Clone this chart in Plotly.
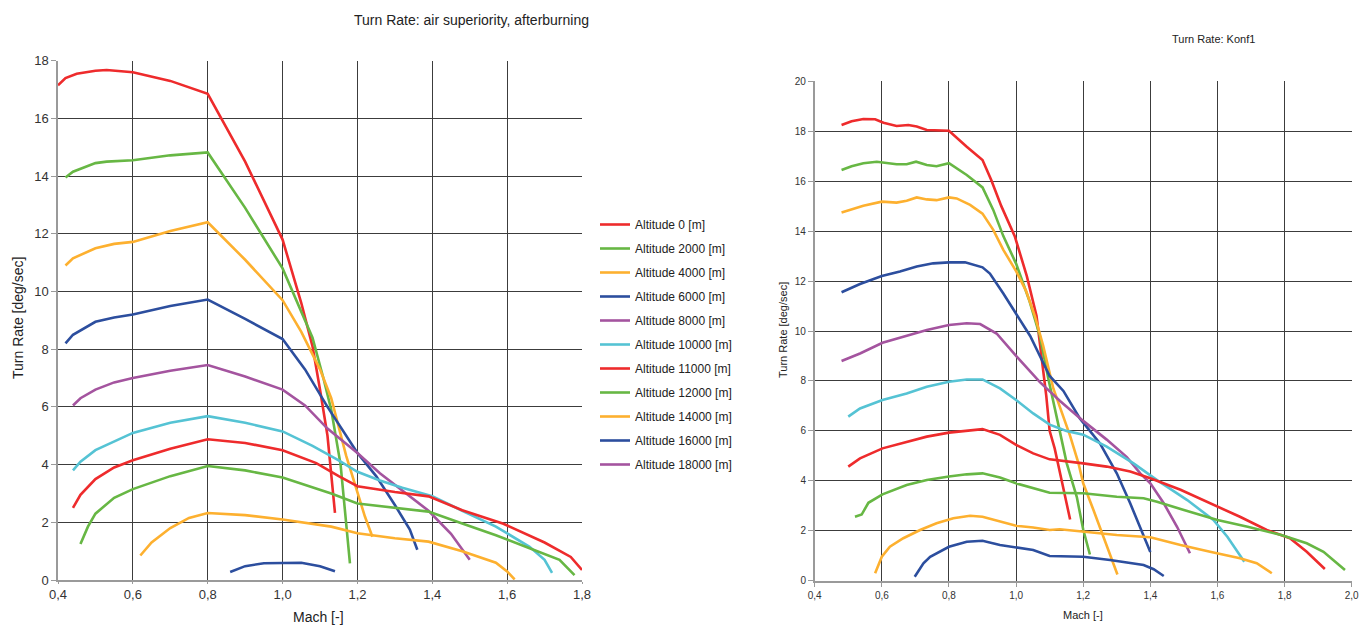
import plotly.graph_objects as go

W, H = 1362, 626

NAMES = ["Altitude 0 [m]", "Altitude 2000 [m]", "Altitude 4000 [m]", "Altitude 6000 [m]",
         "Altitude 8000 [m]", "Altitude 10000 [m]", "Altitude 11000 [m]", "Altitude 12000 [m]",
         "Altitude 14000 [m]", "Altitude 16000 [m]", "Altitude 18000 [m]"]
COLORS = ["#EE2B2C", "#67B744", "#FDB02F", "#2C4E9E", "#A4549F", "#55C3D4",
          "#EE2B2C", "#67B744", "#FDB02F", "#2C4E9E", "#A4549F"]

# ---- Left chart: air superiority, afterburning ----
A_M0 = [0.40, 0.42, 0.45, 0.50, 0.53, 0.60, 0.70, 0.80, 0.90, 1.00, 1.05, 1.08, 1.10, 1.12, 1.14]
A_T0 = [17.15, 17.4, 17.55, 17.65, 17.68, 17.6, 17.3, 16.85, 14.5, 11.8, 9.6, 8.1, 6.6, 5.0, 2.33]
A_M2 = [0.42, 0.44, 0.50, 0.53, 0.60, 0.70, 0.80, 0.90, 1.00, 1.05, 1.08, 1.11, 1.13, 1.155, 1.167, 1.18]
A_T2 = [13.95, 14.15, 14.45, 14.5, 14.55, 14.72, 14.82, 12.9, 10.8, 9.3, 8.4, 6.95, 5.9, 4.0, 2.3, 0.58]
A_M4 = [0.42, 0.44, 0.50, 0.55, 0.60, 0.70, 0.80, 0.90, 1.00, 1.05, 1.10, 1.13, 1.17, 1.20, 1.22, 1.24]
A_T4 = [10.9, 11.15, 11.5, 11.65, 11.72, 12.1, 12.4, 11.1, 9.7, 8.6, 7.3, 6.3, 4.3, 3.0, 2.2, 1.5]
A_M6 = [0.42, 0.44, 0.50, 0.55, 0.60, 0.70, 0.80, 0.90, 1.00, 1.06, 1.12, 1.20, 1.25, 1.30, 1.34, 1.36]
A_T6 = [8.2, 8.5, 8.95, 9.1, 9.2, 9.5, 9.72, 9.05, 8.35, 7.3, 6.0, 4.4, 3.6, 2.6, 1.75, 1.05]
A_M8 = [0.44, 0.46, 0.50, 0.55, 0.60, 0.70, 0.80, 0.90, 1.00, 1.06, 1.12, 1.20, 1.26, 1.33, 1.39, 1.45, 1.50]
A_T8 = [6.05, 6.3, 6.6, 6.85, 7.0, 7.25, 7.45, 7.05, 6.6, 6.05, 5.25, 4.4, 3.7, 3.0, 2.4, 1.6, 0.7]
A_M10 = [0.44, 0.46, 0.50, 0.55, 0.60, 0.70, 0.80, 0.90, 1.00, 1.08, 1.15, 1.20, 1.26, 1.32, 1.40, 1.48, 1.57, 1.66, 1.70, 1.72]
A_T10 = [3.8, 4.1, 4.5, 4.8, 5.1, 5.45, 5.68, 5.45, 5.15, 4.65, 4.15, 3.75, 3.45, 3.2, 2.9, 2.4, 1.85, 1.15, 0.7, 0.25]
A_M11 = [0.44, 0.46, 0.50, 0.55, 0.60, 0.70, 0.80, 0.90, 1.00, 1.09, 1.15, 1.20, 1.30, 1.39, 1.48, 1.59, 1.70, 1.77, 1.80]
A_T11 = [2.5, 2.95, 3.5, 3.9, 4.15, 4.55, 4.88, 4.75, 4.5, 4.05, 3.6, 3.25, 3.05, 2.9, 2.42, 1.95, 1.3, 0.8, 0.35]
A_M12 = [0.46, 0.48, 0.50, 0.55, 0.60, 0.70, 0.80, 0.90, 1.00, 1.13, 1.20, 1.30, 1.39, 1.48, 1.57, 1.66, 1.74, 1.78]
A_T12 = [1.25, 1.85, 2.3, 2.85, 3.15, 3.6, 3.95, 3.8, 3.55, 3.0, 2.65, 2.5, 2.37, 1.96, 1.55, 1.1, 0.7, 0.17]
A_M14 = [0.62, 0.65, 0.70, 0.75, 0.80, 0.90, 1.00, 1.13, 1.20, 1.30, 1.39, 1.48, 1.57, 1.60, 1.62]
A_T14 = [0.85, 1.3, 1.8, 2.15, 2.32, 2.25, 2.1, 1.85, 1.62, 1.45, 1.33, 1.0, 0.6, 0.3, 0.02]
A_M16 = [0.86, 0.90, 0.95, 1.00, 1.05, 1.10, 1.14]
A_T16 = [0.28, 0.48, 0.58, 0.6, 0.6, 0.48, 0.3]
A_M18 = []
A_T18 = []

# ---- Right chart: Konf1 ----
B_M0 = [0.48, 0.51, 0.545, 0.58, 0.605, 0.644, 0.679, 0.704, 0.734, 0.773, 0.80, 0.853, 0.90, 0.926, 0.956,
        0.996, 1.032, 1.061, 1.076, 1.09, 1.10, 1.115, 1.136, 1.161]
B_T0 = [18.25, 18.4, 18.49, 18.48, 18.34, 18.21, 18.25, 18.19, 18.05, 18.02, 18.02, 17.38, 16.85, 16.05, 15.0,
        13.8, 12.2, 10.6, 9.0, 7.4, 6.0, 5.3, 4.0, 2.45]
B_M2 = [0.48, 0.51, 0.545, 0.585, 0.644, 0.674, 0.702, 0.734, 0.763, 0.80, 0.853, 0.90, 0.932, 0.962, 1.00,
        1.04, 1.071, 1.096, 1.13, 1.151, 1.181, 1.20, 1.22]
B_T2 = [16.45, 16.6, 16.72, 16.78, 16.68, 16.68, 16.78, 16.65, 16.6, 16.72, 16.25, 15.75, 14.85, 13.8, 12.7,
        11.2, 9.8, 8.1, 6.0, 4.7, 3.35, 2.05, 1.05]
B_M4 = [0.48, 0.545, 0.60, 0.644, 0.674, 0.704, 0.734, 0.763, 0.80, 0.823, 0.863, 0.90, 0.932, 0.962, 1.00,
        1.03, 1.056, 1.081, 1.111, 1.14, 1.161, 1.186, 1.20, 1.23, 1.26, 1.285, 1.302]
B_T4 = [14.75, 15.02, 15.18, 15.14, 15.22, 15.35, 15.27, 15.24, 15.35, 15.31, 15.05, 14.7, 14.05, 13.25, 12.4,
        11.6, 10.6, 9.4, 7.7, 6.6, 5.8, 4.7, 3.9, 2.85, 1.75, 0.85, 0.25]
B_M6 = [0.48, 0.535, 0.60, 0.654, 0.704, 0.753, 0.80, 0.848, 0.90, 0.922, 0.962, 1.00, 1.042, 1.071, 1.10,
        1.141, 1.19, 1.25, 1.30, 1.34, 1.37, 1.40]
B_T6 = [11.55, 11.88, 12.2, 12.38, 12.58, 12.71, 12.75, 12.75, 12.55, 12.3, 11.5, 10.7, 9.8, 9.0, 8.2,
        7.6, 6.5, 5.5, 4.3, 3.1, 2.15, 1.15]
B_M8 = [0.48, 0.535, 0.602, 0.674, 0.734, 0.80, 0.853, 0.893, 0.942, 1.00, 1.071, 1.131, 1.20, 1.27, 1.33,
        1.37, 1.40, 1.44, 1.48, 1.518]
B_T8 = [8.8, 9.1, 9.53, 9.8, 10.04, 10.24, 10.31, 10.28, 9.9, 9.0, 7.95, 7.2, 6.4, 5.65, 4.95,
        4.3, 3.9, 3.1, 2.15, 1.1]
B_M10 = [0.50, 0.535, 0.602, 0.674, 0.734, 0.80, 0.853, 0.90, 0.952, 1.00, 1.051, 1.10, 1.15, 1.20, 1.27,
         1.35, 1.42, 1.51, 1.588, 1.63, 1.68]
B_T10 = [6.57, 6.9, 7.24, 7.5, 7.77, 7.97, 8.06, 8.06, 7.7, 7.24, 6.7, 6.25, 6.0, 5.85, 5.37,
         4.7, 4.03, 3.23, 2.43, 1.75, 0.76]
B_M11 = [0.50, 0.535, 0.602, 0.674, 0.734, 0.80, 0.853, 0.90, 0.952, 1.00, 1.051, 1.10, 1.20, 1.27, 1.34,
         1.40, 1.49, 1.588, 1.667, 1.747, 1.816, 1.866, 1.92]
B_T11 = [4.57, 4.9, 5.3, 5.57, 5.77, 5.93, 6.01, 6.07, 5.84, 5.44, 5.1, 4.86, 4.7, 4.57, 4.37,
         4.1, 3.64, 3.04, 2.56, 2.03, 1.7, 1.16, 0.47]
B_M12 = [0.52, 0.54, 0.56, 0.602, 0.674, 0.734, 0.80, 0.853, 0.90, 0.952, 1.00, 1.051, 1.10, 1.20, 1.30,
         1.38, 1.42, 1.50, 1.60, 1.69, 1.79, 1.866, 1.916, 1.951, 1.98]
B_T12 = [2.56, 2.65, 3.12, 3.46, 3.83, 4.03, 4.17, 4.26, 4.3, 4.13, 3.9, 3.7, 3.52, 3.5, 3.36,
         3.3, 3.16, 2.83, 2.43, 2.16, 1.83, 1.5, 1.16, 0.76, 0.43]
B_M14 = [0.58, 0.60, 0.624, 0.664, 0.714, 0.763, 0.813, 0.863, 0.90, 0.952, 1.00, 1.051, 1.10, 1.13, 1.20,
         1.30, 1.40, 1.49, 1.578, 1.667, 1.717, 1.762]
B_T14 = [0.3, 0.96, 1.36, 1.7, 2.03, 2.3, 2.5, 2.6, 2.56, 2.36, 2.2, 2.13, 2.03, 2.06, 1.96,
         1.83, 1.74, 1.43, 1.16, 0.9, 0.7, 0.3]
B_M16 = [0.698, 0.724, 0.744, 0.80, 0.853, 0.90, 0.952, 1.00, 1.051, 1.10, 1.15, 1.20, 1.28, 1.38, 1.41, 1.44]
B_T16 = [0.16, 0.7, 0.96, 1.36, 1.56, 1.6, 1.43, 1.34, 1.23, 0.99, 0.99, 0.96, 0.83, 0.63, 0.46, 0.19]
B_M18 = []
B_T18 = []

LEFT = [(A_M0, A_T0), (A_M2, A_T2), (A_M4, A_T4), (A_M6, A_T6), (A_M8, A_T8), (A_M10, A_T10),
        (A_M11, A_T11), (A_M12, A_T12), (A_M14, A_T14), (A_M16, A_T16), (A_M18, A_T18)]
RIGHT = [(B_M0, B_T0), (B_M2, B_T2), (B_M4, B_T4), (B_M6, B_T6), (B_M8, B_T8), (B_M10, B_T10),
         (B_M11, B_T11), (B_M12, B_T12), (B_M14, B_T14), (B_M16, B_T16), (B_M18, B_T18)]

LEFT_XTICKS = [0.4, 0.6, 0.8, 1.0, 1.2, 1.4, 1.6, 1.8]
LEFT_YTICKS = [0, 2, 4, 6, 8, 10, 12, 14, 16, 18]
RIGHT_XTICKS = [0.4, 0.6, 0.8, 1.0, 1.2, 1.4, 1.6, 1.8, 2.0]
RIGHT_YTICKS = [0, 2, 4, 6, 8, 10, 12, 14, 16, 18, 20]

FONT = "Liberation Sans, Arial, sans-serif"

fig = go.Figure()
for i, (name, col) in enumerate(zip(NAMES, COLORS)):
    mx, ty = LEFT[i]
    fig.add_trace(go.Scatter(x=mx if mx else [None], y=ty if ty else [None], mode="lines", name=name,
                             legendgroup=f"g{i}", line=dict(color=col, width=2.6),
                             xaxis="x", yaxis="y"))
for i, (name, col) in enumerate(zip(NAMES, COLORS)):
    mx, ty = RIGHT[i]
    if not mx:
        continue
    fig.add_trace(go.Scatter(x=mx, y=ty, mode="lines", name=name, legendgroup=f"g{i}",
                             showlegend=False, line=dict(color=col, width=2.6),
                             xaxis="x2", yaxis="y2"))


def px(x):
    return x / W


def py(y):
    return (H - y) / H


grid = "#3c3c3c"
axis_common = dict(showgrid=True, gridcolor=grid, gridwidth=1, showline=True, linecolor="#9a9a9a",
                   linewidth=1.5, ticks="outside", tickcolor="#9a9a9a", zeroline=False,
                   automargin=False)

fig.update_layout(
    width=W, height=H,
    margin=dict(l=0, r=0, t=0, b=0, autoexpand=False),
    paper_bgcolor="white", plot_bgcolor="white",
    separators=",.",
    font=dict(family=FONT, color="#222"),
    xaxis=dict(domain=[px(58), px(582)], range=[0.4, 1.8], tickvals=LEFT_XTICKS, tickformat=".1f",
               ticklen=2, tickfont=dict(size=13, color="#333"), anchor="y", **axis_common),
    yaxis=dict(domain=[py(580), py(60.7)], range=[0, 18], tickvals=LEFT_YTICKS, ticklen=5,
               tickfont=dict(size=13, color="#333"), anchor="x", **axis_common),
    xaxis2=dict(domain=[px(814.7), px(1351.7)], range=[0.4, 2.0], tickvals=RIGHT_XTICKS, tickformat=".1f",
                ticklen=5, tickfont=dict(size=10, color="#333"), anchor="y2", **axis_common),
    yaxis2=dict(domain=[py(580.7), py(81.3)], range=[0, 20], tickvals=RIGHT_YTICKS, ticklen=5,
                tickfont=dict(size=10, color="#333"), anchor="x2", **axis_common),
    legend=dict(x=px(595), y=py(210), xanchor="left", yanchor="top", font=dict(size=12, color="#222"),
                tracegroupgap=5, bgcolor="rgba(0,0,0,0)", traceorder="grouped"),
    showlegend=True,
    annotations=[
        dict(text="Turn Rate: air superiority, afterburning", x=px(472), y=py(20.5), xref="paper",
             yref="paper", showarrow=False, font=dict(size=14, color="#222"), xanchor="center",
             yanchor="middle"),
        dict(text="Turn Rate: Konf1", x=px(1213), y=py(39), xref="paper", yref="paper",
             showarrow=False, font=dict(size=11, color="#222"), xanchor="center", yanchor="middle"),
        dict(text="Turn Rate [deg/sec]", x=px(18), y=py(318), xref="paper", yref="paper",
             showarrow=False, textangle=-90, font=dict(size=14, color="#222"),
             xanchor="center", yanchor="middle"),
        dict(text="Mach [-]", x=px(318), y=py(617), xref="paper", yref="paper", showarrow=False,
             font=dict(size=14, color="#222"), xanchor="center", yanchor="middle"),
        dict(text="Turn Rate [deg/sec]", x=px(783), y=py(330), xref="paper", yref="paper",
             showarrow=False, textangle=-90, font=dict(size=11, color="#222"),
             xanchor="center", yanchor="middle"),
        dict(text="Mach [-]", x=px(1083), y=py(615), xref="paper", yref="paper", showarrow=False,
             font=dict(size=11, color="#222"), xanchor="center", yanchor="middle"),
    ],
)

fig.write_html("out.html", config={"displayModeBar": False},
               post_script="document.body.style.margin='0';document.body.style.overflow='hidden';")
